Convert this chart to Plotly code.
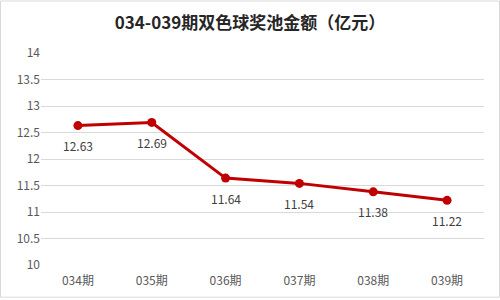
import plotly.graph_objects as go

categories = ["034期", "035期", "036期", "037期", "038期", "039期"]
values = [12.63, 12.69, 11.64, 11.54, 11.38, 11.22]
tick_vals = [10, 10.5, 11, 11.5, 12, 12.5, 13, 13.5, 14]
tick_text = ["10", "10.5", "11", "11.5", "12", "12.5", "13", "13.5", "14"]

W, H = 500, 300
ml, mr, mt, mb = 41, 16, 53, 33
pw, ph = W - ml - mr, H - mt - mb

fig = go.Figure()
fig.add_trace(go.Scatter(
    x=categories, y=values, mode="lines+markers",
    line=dict(color="#C00000", width=3),
    marker=dict(color="#C00000", size=9),
    cliponaxis=False, showlegend=False,
))

annotations = [dict(x=c, y=v, xref="x", yref="y", text=f"{v:.2f}",
                    showarrow=False, yshift=-20,
                    font=dict(family="Noto Sans CJK SC", size=12, color="#404040"))
               for c, v in zip(categories, values)]

fig.update_layout(
    width=W, height=H,
    margin=dict(l=ml, r=mr, t=mt, b=mb),
    paper_bgcolor="white", plot_bgcolor="white",
    title=dict(text="<b>034-039期双色球奖池金额（亿元）</b>",
               x=0.5, xanchor="center", y=1 - 23 / H, yanchor="middle",
               font=dict(family="Noto Sans CJK SC", size=17, color="#262626")),
    font=dict(family="Noto Sans CJK SC", size=12, color="#595959"),
    xaxis=dict(type="category", range=[-0.5, 5.5], showgrid=False,
               showline=False, ticks="", ticklabelstandoff=7,
               tickfont=dict(size=12, color="#595959")),
    yaxis=dict(range=[10, 14], tickvals=tick_vals, ticktext=tick_text,
               showgrid=True, gridcolor="#D9D9D9", gridwidth=1,
               zeroline=False, showline=False, ticks="",
               tickfont=dict(size=12, color="#595959")),
    annotations=annotations,
    shapes=[dict(type="rect", xref="paper", yref="paper",
                 x0=(0.5 - ml) / pw, x1=(W - 0.5 - ml) / pw,
                 y0=(H - mb - (H - 0.5)) / ph, y1=(H - mb - 0.5) / ph,
                 line=dict(color="#D9D9D9", width=1), layer="below")],
)

fig.write_html("out.html")
